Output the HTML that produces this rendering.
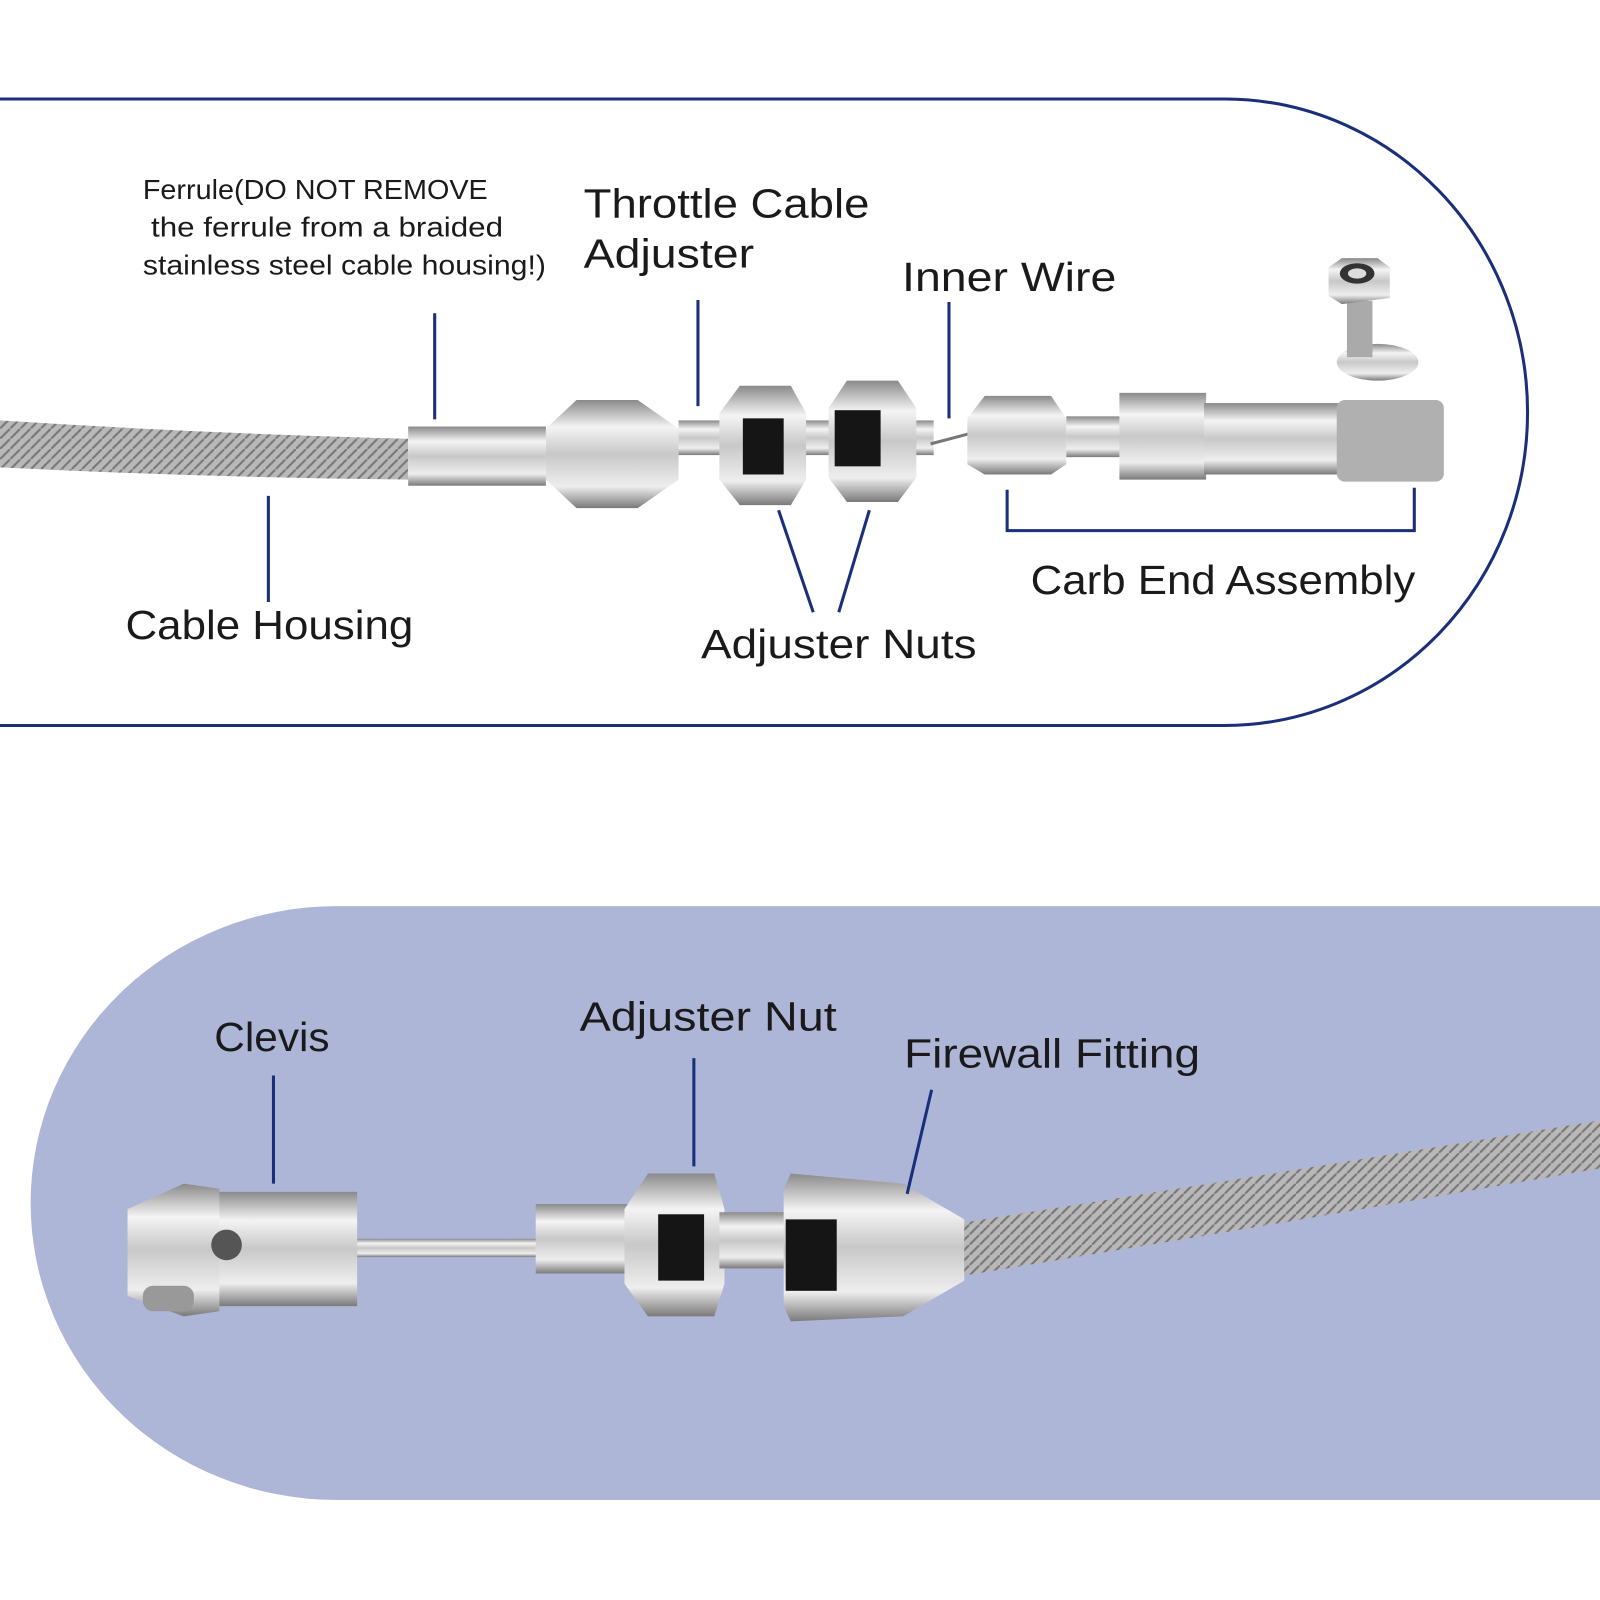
<!DOCTYPE html>
<html><head><style>html,body{margin:0;padding:0;background:#fff}svg{display:block}</style></head>
<body>
<svg width="1600" height="1600" viewBox="0 0 1568 1568" xmlns="http://www.w3.org/2000/svg" font-family="Liberation Sans, sans-serif" fill="#1a1a1a">
<defs>
<linearGradient id="m" x1="0" y1="0" x2="0" y2="1">
<stop offset="0" stop-color="#8a8a8a"/><stop offset="0.25" stop-color="#f4f4f4"/><stop offset="0.5" stop-color="#c8c8c8"/><stop offset="0.8" stop-color="#eeeeee"/><stop offset="1" stop-color="#7a7a7a"/></linearGradient>
<pattern id="br" width="10" height="10" patternUnits="userSpaceOnUse"><rect width="10" height="10" fill="#b8b8b8"/><path d="M0 10L10 0" stroke="#777" stroke-width="2"/></pattern>
</defs>
<path d="M0 97 H1200 A297 307 0 0 1 1200 711 H0" fill="none" stroke="#1a2f7a" stroke-width="3"/>
<path d="M1568 888 H330 A300 291 0 0 0 330 1470 H1568 Z" fill="#aeb6d8"/>

<path d="M0 412 Q200 425 400 430 L400 470 Q200 468 0 458 Z" fill="url(#br)"/>
<rect x="400" y="418" width="135" height="58" fill="url(#m)"/>
<polygon points="535,420 565,392 625,392 665,420 665,470 625,498 565,498 535,470" fill="url(#m)"/>
<rect x="665" y="412" width="250" height="34" fill="url(#m)"/>
<polygon points="705,405 725,378 775,378 790,405 790,470 775,495 725,495 705,470" fill="url(#m)"/>
<rect x="728" y="410" width="40" height="55" fill="#151515"/>
<polygon points="812,400 830,373 880,373 898,400 898,468 880,492 830,492 812,468" fill="url(#m)"/>
<rect x="818" y="402" width="45" height="55" fill="#151515"/>
<line x1="912" y1="435" x2="950" y2="425" stroke="#777" stroke-width="3"/>
<polygon points="948,410 965,388 1030,388 1045,410 1045,455 1030,465 965,465 948,455" fill="url(#m)"/>
<rect x="1045" y="408" width="55" height="40" fill="url(#m)"/>
<rect x="1097" y="385" width="85" height="85" fill="url(#m)"/>
<rect x="1180" y="395" width="135" height="70" fill="url(#m)"/>
<rect x="1310" y="392" width="105" height="80" rx="8" fill="#b0b0b0"/>
<ellipse cx="1350" cy="355" rx="40" ry="18" fill="url(#m)"/>
<rect x="1320" y="295" width="25" height="55" fill="#aaa"/>
<polygon points="1302,262 1315,253 1350,253 1362,262 1362,292 1315,298 1302,290" fill="url(#m)"/>
<ellipse cx="1330" cy="268" rx="17" ry="10" fill="#333"/><ellipse cx="1330" cy="268" rx="9" ry="5" fill="#ddd"/>

<g stroke="#1a2f7a" stroke-width="3" fill="none">
<line x1="426" y1="307" x2="426" y2="411"/>
<line x1="263" y1="486" x2="263" y2="590"/>
<line x1="684" y1="294" x2="684" y2="398"/>
<line x1="930" y1="296" x2="930" y2="410"/>
<line x1="763" y1="500" x2="797" y2="600"/>
<line x1="852" y1="500" x2="822" y2="600"/>
<path d="M987 480 V520 H1386 V478"/>
</g>
<g font-size="27">
<text x="140" y="195" textLength="338" lengthAdjust="spacingAndGlyphs">Ferrule(DO NOT REMOVE</text>
<text x="148" y="232" textLength="345" lengthAdjust="spacingAndGlyphs">the ferrule from a braided</text>
<text x="140" y="269" textLength="395" lengthAdjust="spacingAndGlyphs">stainless steel cable housing!)</text>
</g>
<g font-size="40">
<text x="572" y="213" textLength="280" lengthAdjust="spacingAndGlyphs">Throttle Cable</text>
<text x="572" y="262" textLength="167" lengthAdjust="spacingAndGlyphs">Adjuster</text>
<text x="884" y="285" textLength="210" lengthAdjust="spacingAndGlyphs">Inner Wire</text>
<text x="123" y="626" textLength="282" lengthAdjust="spacingAndGlyphs">Cable Housing</text>
<text x="687" y="645" textLength="270" lengthAdjust="spacingAndGlyphs">Adjuster Nuts</text>
<text x="1010" y="582" textLength="377" lengthAdjust="spacingAndGlyphs">Carb End Assembly</text>
<text x="210" y="1030" textLength="113" lengthAdjust="spacingAndGlyphs">Clevis</text>
<text x="568" y="1010" textLength="252" lengthAdjust="spacingAndGlyphs">Adjuster Nut</text>
<text x="886" y="1046" textLength="290" lengthAdjust="spacingAndGlyphs">Firewall Fitting</text>
</g>

<rect x="180" y="1168" width="170" height="112" fill="url(#m)"/>
<polygon points="125,1185 180,1160 215,1165 215,1285 180,1290 125,1270" fill="url(#m)"/>
<rect x="140" y="1260" width="50" height="25" rx="10" fill="#999"/>
<circle cx="222" cy="1220" r="15" fill="#555"/>
<rect x="350" y="1214" width="180" height="18" fill="url(#m)"/>
<rect x="525" y="1180" width="100" height="68" fill="url(#m)"/>
<polygon points="612,1185 635,1150 700,1150 710,1185 710,1258 700,1290 635,1290 612,1258" fill="url(#m)"/>
<rect x="645" y="1190" width="45" height="65" fill="#151515"/>
<rect x="705" y="1188" width="65" height="55" fill="url(#m)"/>
<polygon points="768,1165 775,1150 885,1160 945,1195 945,1255 885,1290 775,1295 768,1280" fill="url(#m)"/>
<rect x="770" y="1195" width="50" height="70" fill="#151515"/>
<path d="M945 1198 Q1250 1150 1568 1098 L1568 1145 Q1250 1200 945 1250 Z" fill="url(#br)"/>
<g stroke="#1a2f7a" stroke-width="3">
<line x1="268" y1="1054" x2="268" y2="1160"/>
<line x1="680" y1="1037" x2="680" y2="1143"/>
<line x1="913" y1="1068" x2="889" y2="1170"/>
</g>
</svg>
</body></html>
